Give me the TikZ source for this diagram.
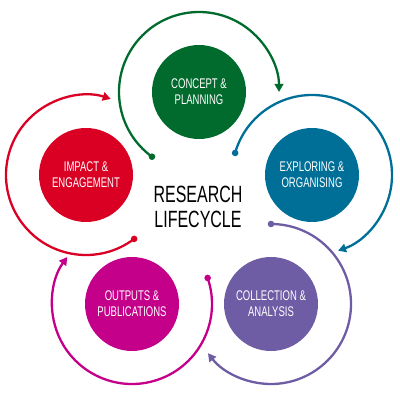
\documentclass[tikz,border=0pt]{standalone}
\usepackage{fontspec}
\setmainfont{Liberation Sans}[FakeStretch=0.68]
\usetikzlibrary{arrows.meta}
\definecolor{cgreen}{RGB}{0,107,45}
\definecolor{cblue}{RGB}{0,111,152}
\definecolor{cred}{RGB}{218,0,36}
\definecolor{cpurple}{RGB}{110,92,165}
\definecolor{cmagenta}{RGB}{196,0,138}
\begin{document}
\begin{tikzpicture}[x=1pt,y=1pt,
  stage/.style={circle,minimum size=94pt,inner sep=0pt,text=white,
    font=\fontsize{14}{16}\selectfont,align=center},
  cyc/.style={line width=2.3pt,-{Triangle[length=8pt,width=8.5pt]}},
  ]
\useasboundingbox (0,0) rectangle (400,392);
\node[stage,fill=cgreen]   (cp) at (199,300) {CONCEPT \&\\PLANNING};
\node[stage,fill=cblue]    (eo) at (312,217) {EXPLORING \&\\ORGANISING};
\node[stage,fill=cpurple]  (ca) at (271,88)  {COLLECTION \&\\ANALYSIS};
\node[stage,fill=cmagenta] (op) at (132,88)  {OUTPUTS \&\\PUBLICATIONS};
\node[stage,fill=cred]     (ie) at (86,217)  {IMPACT \&\\ENGAGEMENT};
\node[font=\fontsize{23.5}{25}\selectfont,align=center] (title) at (198,185) {RESEARCH\\LIFECYCLE};

\draw[cyc,cgreen] ([shift={(234:80pt)}]cp.center) arc[start angle=234,end angle=0,radius=80pt];
\fill[cgreen] ([shift={(234:80pt)}]cp.center) circle (3.3pt);

\draw[cyc,cblue] ([shift={(164:80pt)}]eo.center) arc[start angle=164,end angle=-71,radius=80pt];
\fill[cblue] ([shift={(164:80pt)}]eo.center) circle (3.3pt);

\draw[cyc,cpurple] ([shift={(90:80pt)}]ca.center) arc[start angle=90,end angle=-142,radius=80pt];
\fill[cpurple] ([shift={(90:80pt)}]ca.center) circle (3.3pt);

\draw[cyc,cmagenta] ([shift={(19:80pt)}]op.center) arc[start angle=19,end angle=-216,radius=80pt];
\fill[cmagenta] ([shift={(19:80pt)}]op.center) circle (3.3pt);

\draw[cyc,cred] ([shift={(-53:80pt)}]ie.center) arc[start angle=-53,end angle=-288,radius=80pt];
\fill[cred] ([shift={(-53:80pt)}]ie.center) circle (3.3pt);
\end{tikzpicture}
\end{document}
